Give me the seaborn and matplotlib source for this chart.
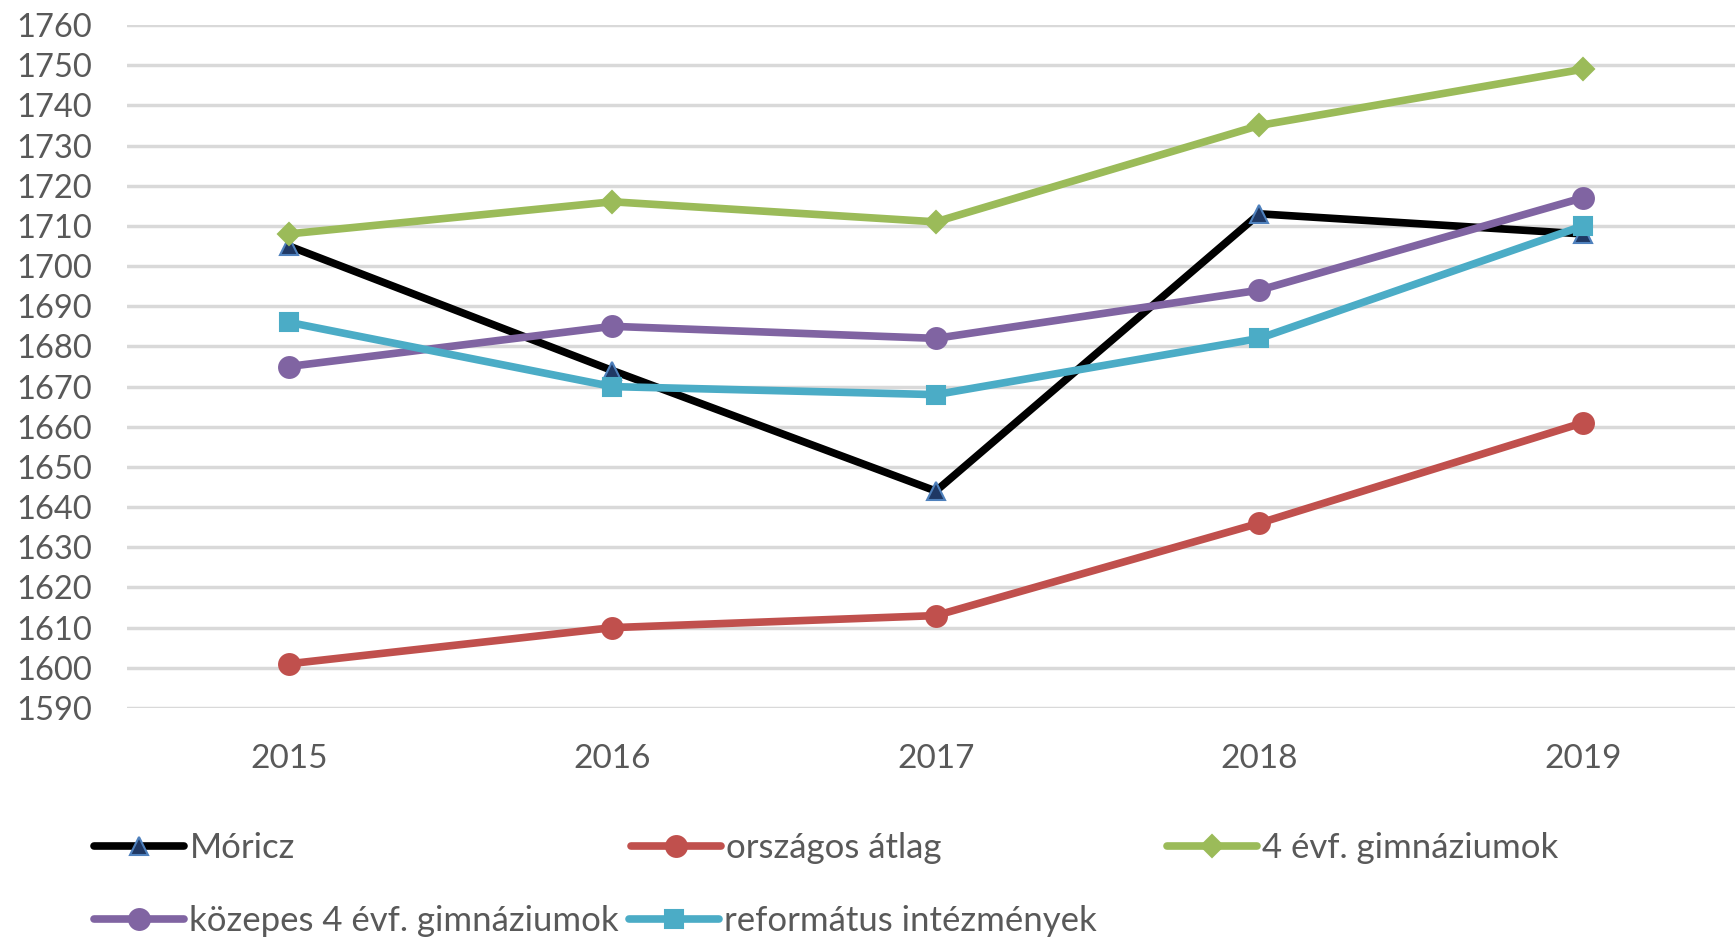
import matplotlib
matplotlib.use("Agg")
import matplotlib.pyplot as plt
import seaborn as sns
import pandas as pd

years = ["2015", "2016", "2017", "2018", "2019"]
moricz = [1705, 1674, 1644, 1713, 1708]
orszagos = [1601, 1610, 1613, 1636, 1661]
evf4 = [1708, 1716, 1711, 1735, 1749]
kozepes = [1675, 1685, 1682, 1694, 1717]
reformatus = [1686, 1670, 1668, 1682, 1710]

series = [
    ("Móricz", moricz, "#000000", "^", 13, "#1f3864", "#4f81bd"),
    ("országos átlag", orszagos, "#c0504d", "o", 15, "#c0504d", "#c0504d"),
    ("4 évf. gimnáziumok", evf4, "#9bbb59", "D", 11, "#9bbb59", "#9bbb59"),
    ("közepes 4 évf. gimnáziumok", kozepes, "#8064a2", "o", 15, "#8064a2", "#8064a2"),
    ("református intézmények", reformatus, "#4bacc6", "s", 13, "#4bacc6", "#4bacc6"),
]

sns.set_style("white")
plt.rcParams['font.family'] = ['Lato', 'DejaVu Sans']
text_color = "#595959"

fig = plt.figure(figsize=(17.35, 9.46), dpi=100)
ax = fig.add_axes([127 / 1735, 1 - 708 / 946, 1 - 127 / 1735, (708 - 25) / 946])

handles = []
for name, vals, col, mk, ms, mfc, mec in series:
    df = pd.DataFrame({"x": range(len(years)), "y": vals})
    sns.lineplot(data=df, x="x", y="y", ax=ax, color=col, lw=5.5, marker=mk,
                 markersize=ms, markerfacecolor=mfc, markeredgecolor=mec,
                 markeredgewidth=1.5, zorder=3)
    handles.append(ax.get_lines()[-1])

ax.set_xlim(-0.5, 4.47)
ax.set_ylim(1590, 1760)
ax.set_yticks(range(1590, 1761, 10))
ax.set_xticks(range(len(years)))
ax.set_xticklabels(years)
ax.set_xlabel("")
ax.set_ylabel("")
ax.grid(axis="y", color="#d9d9d9", lw=2.5, zorder=0)
ax.grid(axis="x", visible=False)
for s in ax.spines.values():
    s.set_visible(False)
ax.tick_params(axis="y", labelsize=23.5, colors=text_color, length=0, pad=25)
ax.tick_params(axis="x", labelsize=24, colors=text_color, length=0, pad=26)

# Excel-style legend: each entry at a fixed slot
slots = [(94, 848), (631, 848), (1167, 848), (94, 921), (629, 921)]
for h, (name, *_), (px, py) in zip(handles, series, slots):
    leg = fig.legend([h], [name], loc="center left",
                     bbox_to_anchor=(px / 1735, 1 - py / 946),
                     frameon=False, fontsize=25, handlelength=2.6,
                     handletextpad=0.15, borderpad=0, borderaxespad=0,
                     labelcolor=text_color)

fig.savefig("out.png", dpi=100, facecolor="white")
